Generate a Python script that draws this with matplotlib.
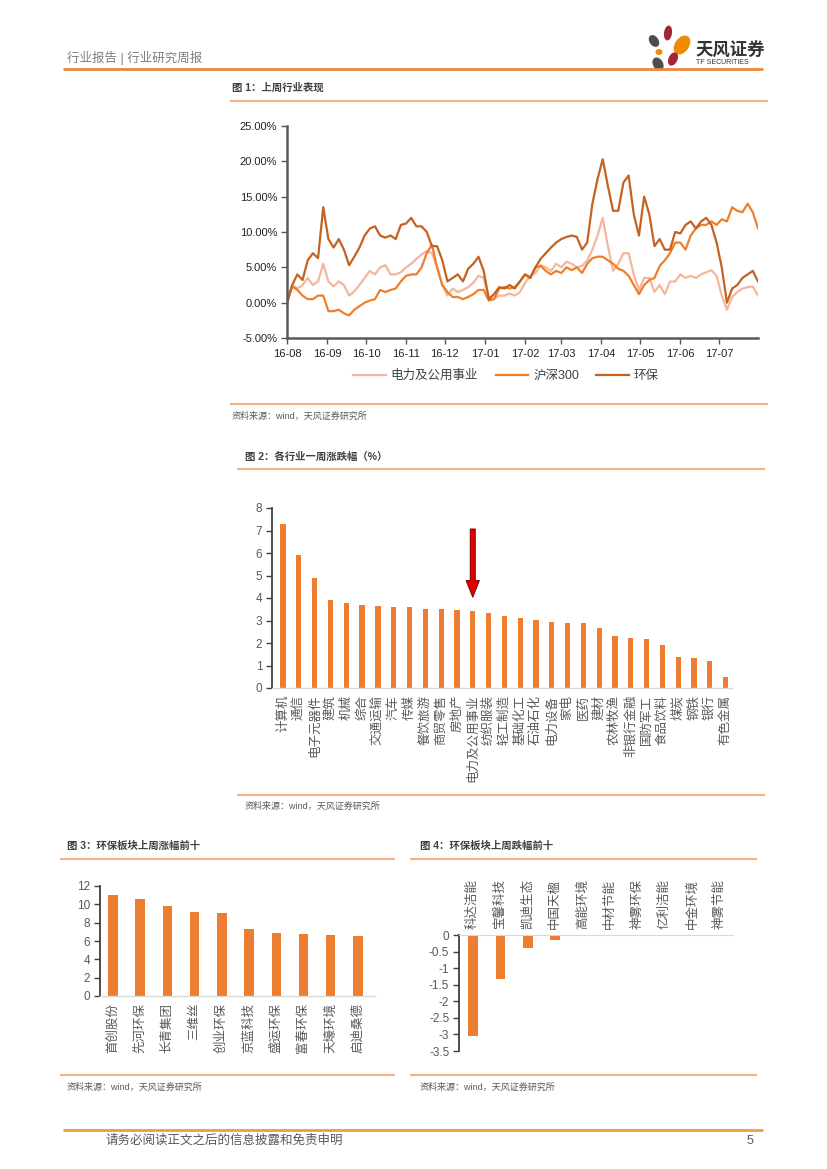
import matplotlib
matplotlib.use('Agg')
import matplotlib.pyplot as plt
import matplotlib.dates as mdates
from matplotlib.patches import Ellipse
from matplotlib.ticker import FuncFormatter, MultipleLocator
import pandas as pd

plt.rcParams['font.family'] = ['Liberation Sans', 'Noto Sans CJK SC']
plt.rcParams['axes.unicode_minus'] = False

W, H = 827, 1169

# 图1：上周行业表现（累计涨跌幅 %，每4天取一点）
dates = pd.date_range('2016-08-01', periods=92, freq='4D')
utility = [0.0, 2.5, 2.0, 2.5, 3.5, 2.5, 3.0, 5.5, 3.0, 2.3,
           3.0, 2.5, 1.0, 1.6, 2.5, 3.5, 4.5, 4.0, 5.0, 5.3,
           4.0, 4.0, 4.3, 5.0, 5.5, 6.2, 6.8, 7.3, 7.0, 5.0,
           2.5, 1.0, 2.0, 1.5, 1.8, 2.2, 2.8, 3.8, 3.5, 0.5,
           0.5, 1.0, 1.0, 1.3, 1.0, 1.5, 2.8, 3.8, 4.2, 5.3,
           5.0, 4.5, 5.5, 5.0, 5.8, 5.5, 5.0, 5.2, 6.0, 7.5,
           9.5, 12.0, 8.0, 4.5, 5.5, 7.0, 7.0, 4.0, 1.8, 3.5,
           3.5, 1.5, 2.5, 1.2, 3.0, 3.0, 4.0, 3.5, 3.8, 3.5,
           4.0, 4.3, 4.6, 3.8, 1.0, -1.0, 0.8, 1.5, 2.0, 2.2,
           2.3, 1.0]
hs300 = [0.0, 2.3, 1.8, 1.0, 0.5, 0.5, 1.0, 1.0, -1.2, -1.2,
         -1.0, -1.5, -1.8, -1.0, -0.5, 0.0, 0.3, 0.5, 1.8, 1.5,
         1.8, 2.0, 3.0, 3.8, 4.0, 4.0, 5.0, 7.0, 8.2, 5.0,
         2.5, 1.5, 0.8, 0.8, 0.5, 0.8, 1.2, 1.8, 1.8, 0.3,
         0.5, 2.0, 2.2, 2.0, 2.2, 3.0, 4.0, 3.5, 5.0, 5.2,
         4.5, 4.0, 4.5, 4.2, 5.0, 4.6, 5.0, 4.2, 5.5, 6.3,
         6.5, 6.5, 6.0, 5.5, 4.8, 4.5, 3.8, 2.5, 1.2, 2.5,
         3.2, 3.5, 5.2, 6.0, 7.0, 8.5, 8.5, 7.5, 9.5, 10.5,
         11.0, 11.0, 11.5, 11.0, 11.8, 11.5, 13.5, 13.0, 12.8, 14.0,
         12.8, 10.5]
envir = [0.0, 2.5, 4.0, 3.2, 6.0, 7.0, 6.3, 13.5, 9.0, 7.8,
         9.0, 7.5, 5.3, 6.5, 7.8, 9.5, 10.5, 10.8, 9.5, 9.2,
         9.5, 9.0, 11.0, 11.2, 12.0, 10.8, 10.8, 10.0, 8.0, 8.0,
         6.0, 3.0, 3.5, 4.0, 3.0, 4.8, 5.5, 6.5, 4.5, 0.5,
         1.2, 2.2, 2.0, 2.5, 2.0, 3.0, 4.0, 3.5, 5.0, 6.2,
         7.0, 7.8, 8.5, 9.0, 9.3, 9.5, 9.3, 7.5, 8.5, 14.0,
         17.5, 20.3, 16.5, 13.0, 13.0, 17.0, 18.0, 12.5, 9.5, 15.0,
         12.5, 8.0, 9.0, 7.5, 7.5, 10.0, 9.8, 11.0, 11.5, 10.5,
         11.5, 12.0, 11.0, 8.5, 5.0, 0.0, 2.0, 2.5, 3.5, 4.0,
         4.5, 3.0]

# 图2：各行业一周涨跌幅（%）
industries = ['计算机', '通信', '电子元器件', '建筑', '机械', '综合', '交通运输', '汽车',
              '传媒', '餐饮旅游', '商贸零售', '房地产', '电力及公用事业', '纺织服装',
              '轻工制造', '基础化工', '石油石化', '电力设备', '家电', '医药', '建材',
              '农林牧渔', '非银行金融', '国防军工', '食品饮料', '煤炭', '钢铁', '银行', '有色金属']
ind_chg = [7.28, 5.92, 4.90, 3.93, 3.77, 3.69, 3.65, 3.59, 3.58, 3.52,
           3.49, 3.46, 3.44, 3.35, 3.22, 3.12, 3.03, 2.92, 2.91, 2.88,
           2.66, 2.30, 2.21, 2.18, 1.93, 1.39, 1.32, 1.22, 0.47]
highlight = '电力及公用事业'

# 图3 / 图4：环保板块涨跌幅前十
top_names = ['首创股份', '先河环保', '长青集团', '三维丝', '创业环保',
             '京蓝科技', '盛运环保', '富春环保', '天壕环境', '启迪桑德']
top_chg = [10.98, 10.58, 9.78, 9.20, 9.05, 7.35, 6.90, 6.76, 6.69, 6.55]
bottom_names = ['科达洁能', '宝馨科技', '凯迪生态', '中国天楹', '高能环境',
                '中材节能', '神雾环保', '亿利洁能', '中金环境', '神雾节能']
bottom_chg = [-3.05, -1.32, -0.39, -0.15, 0, 0, 0, 0, 0, 0]

ORANGE = '#ED7D31'
GRAY_TXT = '#595959'


def box(l, t, r, b):
    return [l / W, 1 - b / H, (r - l) / W, (b - t) / H]


fig = plt.figure(figsize=(W / 100, H / 100), dpi=100)
bg = fig.add_axes([0, 0, 1, 1], zorder=0)
bg.set_xlim(0, W)
bg.set_ylim(H, 0)
bg.axis('off')

# 页眉 / 页脚
bg.text(67, 58, '行业报告 | 行业研究周报', fontsize=9, color='#7F7F7F', va='center')
bg.plot([63, 763], [68.5, 68.5], color='#E8883A', lw=2, solid_capstyle='butt')
for cx, cy, w, h, ang, c in [(668, 33, 8, 15, 8, '#A5243A'), (682, 45, 14, 21, 35, '#F08A00'),
                              (654, 41, 9, 13, -35, '#4D4D4D'), (659, 52, 7, 6, 0, '#F08A00'),
                              (673, 59, 9, 14, 25, '#A5243A'), (658, 64, 10, 14, -30, '#4D4D4D')]:
    bg.add_patch(Ellipse((cx, cy), w, h, angle=ang, color=c, lw=0))
bg.text(695, 50, '天风证券', fontsize=12.5, color='#333333', va='center', fontweight='bold')
bg.text(696, 63, 'TF SECURITIES', fontsize=5, color='#333333', va='center')
bg.plot([63, 763], [1130, 1130], color='#E8A040', lw=2, solid_capstyle='butt')
bg.text(106, 1141, '请务必阅读正文之后的信息披露和免责申明', fontsize=9, color=GRAY_TXT, va='center')
bg.text(753, 1141, '5', fontsize=9, color=GRAY_TXT, va='center', ha='right')


def section(x0, x1, tx, ty, title, y_top, y_bot, sy):
    bg.text(tx, ty, title, fontsize=7.5, color='#404040', va='center', fontweight='bold')
    bg.plot([x0, x1], [y_top, y_top], color='#F4B183', lw=1.5, solid_capstyle='butt')
    bg.plot([x0, x1], [y_bot, y_bot], color='#F4B183', lw=1.5, solid_capstyle='butt')
    bg.text(tx, sy, '资料来源：wind，天风证券研究所', fontsize=6.5, color=GRAY_TXT, va='center')


section(230, 768, 232, 88, '图 1：上周行业表现', 100.5, 404, 416)
section(237, 765, 245, 457, '图 2：各行业一周涨跌幅（%）', 469, 795, 806)
section(60, 395, 67, 846, '图 3：环保板块上周涨幅前十', 859, 1075, 1087)
section(410, 757, 420, 846, '图 4：环保板块上周跌幅前十', 859, 1075, 1087)


def style_axis(ax, xspine='#D9D9D9'):
    for s in ['top', 'right']:
        ax.spines[s].set_visible(False)
    ax.spines['left'].set_color('#404040')
    ax.spines['left'].set_linewidth(1.3)
    ax.spines['bottom'].set_color(xspine)
    ax.spines['bottom'].set_linewidth(1.0)
    ax.tick_params(axis='y', direction='out', length=4, width=1, color='#404040',
                   labelsize=8.5, labelcolor=GRAY_TXT, pad=3)
    ax.patch.set_alpha(0)


# 图1 折线
ax1 = fig.add_axes(box(287, 126, 758, 338), zorder=2)
ax1.plot(dates, utility, color='#F4B79E', lw=1.6, label='电力及公用事业')
ax1.plot(dates, hs300, color='#EE7F2D', lw=1.6, label='沪深300')
ax1.plot(dates, envir, color='#C5621F', lw=1.6, label='环保')
ax1.set_xlim(dates[0], dates[-1])
ax1.set_ylim(-5, 25)
ax1.yaxis.set_major_locator(MultipleLocator(5))
ax1.yaxis.set_major_formatter(FuncFormatter(lambda v, p: f'{v:.2f}%'))
ax1.xaxis.set_major_locator(mdates.MonthLocator())
ax1.xaxis.set_major_formatter(mdates.DateFormatter('%y-%m'))
style_axis(ax1, xspine='#595959')
ax1.spines['left'].set_color('#595959')
ax1.spines['left'].set_linewidth(1.8)
ax1.spines['bottom'].set_linewidth(1.8)
ax1.tick_params(axis='y', labelsize=8, labelcolor='#222222', color='#595959')
ax1.tick_params(axis='x', direction='out', length=4, width=1, color='#595959',
                labelsize=8, labelcolor='#222222', pad=4)
leg = ax1.legend(loc='center', bbox_to_anchor=(506 / W, 1 - 376 / H), bbox_transform=fig.transFigure,
                 ncol=3, frameon=False, fontsize=9, handlelength=2.6, columnspacing=1.4,
                 handletextpad=0.4)
for t in leg.get_texts():
    t.set_color('#404040')

# 图2 各行业柱状
ax2 = fig.add_axes(box(272, 508, 732, 688), zorder=2)
x2 = range(len(industries))
ax2.bar(x2, ind_chg, width=0.33, color=ORANGE)
ax2.set_xlim(-0.7, len(industries) - 0.6)
ax2.set_ylim(0, 8)
ax2.yaxis.set_major_locator(MultipleLocator(1))
ax2.set_xticks(list(x2))
ax2.set_xticklabels(industries, rotation=90, fontsize=9, color=GRAY_TXT)
ax2.tick_params(axis='x', length=0, pad=5)
style_axis(ax2)
hi = industries.index(highlight)
ax2.annotate('', xy=(hi, ind_chg[hi] + 0.47), xytext=(hi, ind_chg[hi] + 3.75),
             arrowprops=dict(arrowstyle='simple,head_width=0.95,head_length=1.2,tail_width=0.36',
                             mutation_scale=10, fc='#E00000', ec='#800000', lw=0.7))

# 图3 涨幅前十
ax3 = fig.add_axes(box(100, 886, 375, 996), zorder=2)
x3 = range(len(top_names))
ax3.bar(x3, top_chg, width=0.35, color=ORANGE)
ax3.set_xlim(-0.48, len(top_names) - 0.37)
ax3.set_ylim(0, 12)
ax3.yaxis.set_major_locator(MultipleLocator(2))
ax3.set_xticks(list(x3))
ax3.set_xticklabels(top_names, rotation=90, fontsize=9, color=GRAY_TXT)
ax3.tick_params(axis='x', length=0, pad=5)
style_axis(ax3)

# 图4 跌幅前十
ax4 = fig.add_axes(box(459, 935, 733, 1051), zorder=2)
x4 = range(len(bottom_names))
ax4.bar(x4, bottom_chg, width=0.35, color=ORANGE)
ax4.set_xlim(-0.51, len(bottom_names) - 0.51)
ax4.set_ylim(-3.5, 0)
ax4.yaxis.set_major_locator(MultipleLocator(0.5))
ax4.yaxis.set_major_formatter(FuncFormatter(lambda v, p: f'{v:g}'))
style_axis(ax4)
ax4.spines['bottom'].set_visible(False)
ax4.spines['top'].set_visible(True)
ax4.spines['top'].set_color('#D9D9D9')
ax4.xaxis.set_ticks_position('top')
ax4.set_xticks(list(x4))
ax4.set_xticklabels(bottom_names, rotation=90, fontsize=9, color=GRAY_TXT)
ax4.tick_params(axis='x', length=0, pad=4)

fig.savefig('out.png', dpi=100)
